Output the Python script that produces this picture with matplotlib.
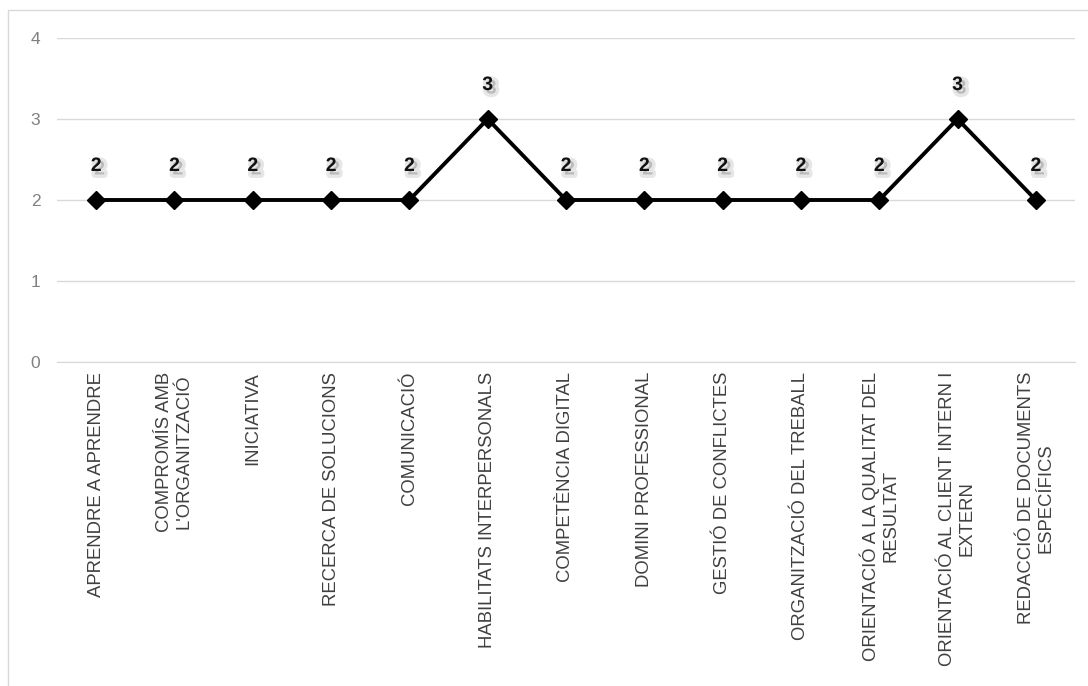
import matplotlib
matplotlib.use("Agg")
import matplotlib.pyplot as plt
import matplotlib.patheffects as pe
from matplotlib.patches import Rectangle

categories = [
    "APRENDRE A APRENDRE",
    "COMPROMÍS AMB\nL'ORGANITZACIÓ",
    "INICIATIVA",
    "RECERCA DE SOLUCIONS",
    "COMUNICACIÓ",
    "HABILITATS INTERPERSONALS",
    "COMPETÈNCIA DIGITAL",
    "DOMINI PROFESSIONAL",
    "GESTIÓ DE CONFLICTES",
    "ORGANITZACIÓ DEL TREBALL",
    "ORIENTACIÓ A LA QUALITAT DEL\nRESULTAT",
    "ORIENTACIÓ AL CLIENT INTERN I\nEXTERN",
    "REDACCIÓ DE DOCUMENTS\nESPECÍFICS",
]
values = [2, 2, 2, 2, 2, 3, 2, 2, 2, 2, 2, 3, 2]
yticks = [0, 1, 2, 3, 4]

plt.rcParams['font.family'] = ['Liberation Sans', 'DejaVu Sans']

W, H = 1088, 686
fig = plt.figure(figsize=(W / 100, H / 100), dpi=100)
fig.patch.set_facecolor('white')

# chart border
fig.add_artist(Rectangle((8 / W, -0.01), 1.1, 1 - 10 / H + 0.01,
                         transform=fig.transFigure, fill=False,
                         edgecolor='#d9d9d9', linewidth=1.0))

ax = fig.add_axes([57 / W, 1 - 362 / H, (1075 - 57) / W, (362 - 38) / H])
x = list(range(len(categories)))
ax.plot(x, values, color='black', linewidth=2.8, marker='D', markersize=9,
        markerfacecolor='black', markeredgecolor='black', zorder=3)

ax.set_xlim(-0.5, len(categories) - 0.5)
ax.set_ylim(0, 4)
ax.set_yticks(yticks)
ax.set_yticklabels([str(t) for t in yticks], color='#808080', fontsize=12.5)
ax.yaxis.grid(True, color='#d9d9d9', linewidth=1.0)
ax.set_axisbelow(True)
for s in ['top', 'right', 'left']:
    ax.spines[s].set_visible(False)
ax.spines['bottom'].set_color('#d9d9d9')
ax.tick_params(axis='y', length=0, pad=12)
ax.tick_params(axis='x', length=0, pad=7)

ax.set_xticks(x)
ax.set_xticklabels(categories, rotation=90, ha='center', va='top',
                   multialignment='center', fontsize=13.3, color='#404040')

shadow_fx = [pe.SimpleLineShadow(offset=(2.5, -2.5), shadow_color='#c8c8c8',
                                 alpha=0.45, linewidth=5),
             pe.SimplePatchShadow(offset=(2.5, -2.5), shadow_rgbFace='#a8a8a8',
                                  alpha=0.7),
             pe.Normal()]
for xi, v in zip(x, values):
    ax.annotate(str(v), (xi, v), xytext=(0, 18), textcoords='offset points',
                ha='center', va='bottom', fontsize=14, fontweight='bold',
                color='#111111', path_effects=shadow_fx, zorder=5)

fig.savefig('out.png', dpi=100, facecolor='white')
